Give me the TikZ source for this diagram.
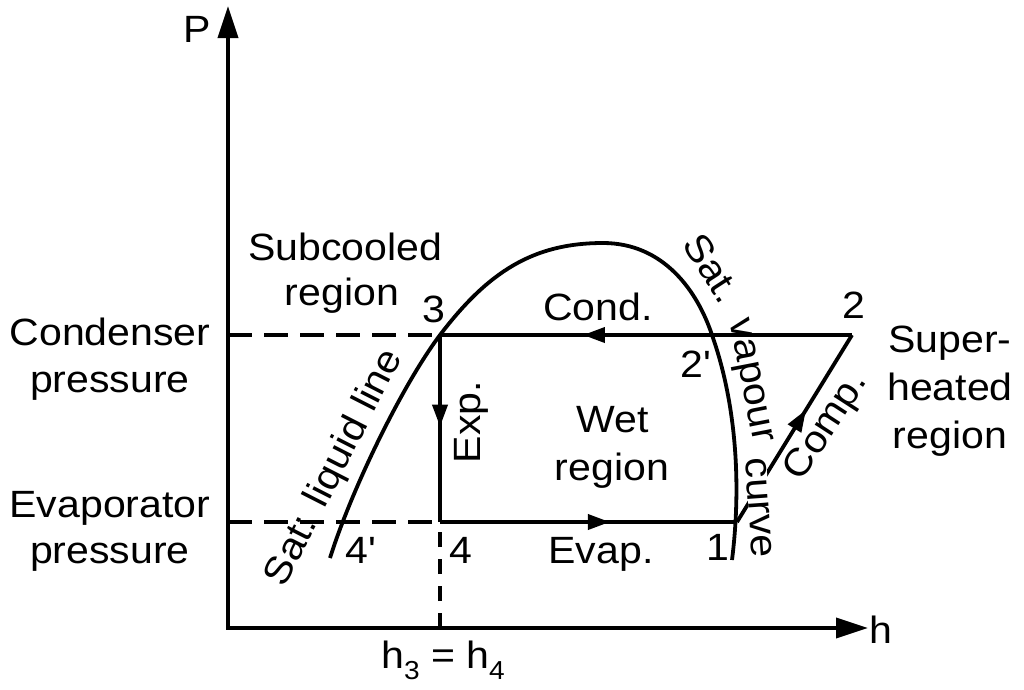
\documentclass[tikz,border=0pt]{standalone}
\usepackage{fontspec}
\setmainfont[FakeStretch=1.08]{Liberation Sans}
\usetikzlibrary{arrows.meta,decorations.markings}
\newcommand\lowsub[1]{\raisebox{-11pt}{\fontsize{26}{30}\selectfont #1}}
\begin{document}
\begin{tikzpicture}[x=1pt,y=-1pt,
  lbl/.style={font=\fontsize{38}{44}\selectfont, inner sep=0pt},
  ln/.style={line width=3.8pt},
  dsh/.style={line width=3.8pt, dash pattern=on 24pt off 12pt},
  vdsh/.style={line width=3.8pt, dash pattern=on 15pt off 12pt},
  midarrow/.style={postaction={decorate}, decoration={markings,
     mark=at position #1 with {\arrow{Triangle[length=22pt,width=15pt]}}}},
  axtip/.style={{Triangle[length=32pt,width=20pt]}-{Triangle[length=32pt,width=20pt]}}
]
\useasboundingbox (0,0) rectangle (1024,689);
% key points
\coordinate (O) at (228,628);
\coordinate (Ptop) at (228,6);
\coordinate (hend) at (868,628);
\coordinate (cL) at (228,335);
\coordinate (eL) at (228,522);
\coordinate (p3) at (440,335);
\coordinate (p2) at (852,335);
\coordinate (p4) at (440,522);
\coordinate (p1) at (737,522);
\coordinate (hb) at (440,628);
\coordinate (liqend) at (330,558);
\coordinate (top) at (603,243);
\coordinate (p2p) at (712,335);
\coordinate (vapend) at (732,560);
% axes
\draw[ln, axtip] (Ptop) -- (O) -- (hend);
% compression line (partly masked by the curve label)
\draw[ln, midarrow=0.6] (p1) -- (p2);
\node[lbl, rotate=-79, fill=white, inner sep=0pt] (tvap) at (748,381) {vapour};
\node[lbl, rotate=-86, fill=white, inner sep=0pt] (tcur) at (759,508) {curve};
\node[lbl, rotate=-57] (tsat) at (712,268) {Sat.};
% dashed pressure lines
\draw[dsh] (cL) -- (p3);
\draw[dsh] (eL) -- (p4);
\draw[vdsh] (hb) -- (p4);
% cycle
\draw[ln, midarrow=0.653] (p2) -- (p3);
\draw[ln, midarrow=0.49] (p3) -- (p4);
\draw[ln, midarrow=0.572] (p4) -- (p1);
% saturation dome
\draw[ln] (liqend) .. controls (352,488) and (403,384) .. (p3)
  .. controls (488,272) and (533,243) .. (top)
  .. controls (663,243) and (697,290) .. (p2p)
  .. controls (735,400) and (742,480) .. (vapend);
% labels
\node[lbl, anchor=base] (tP) at (197,42) {P};
\node[lbl, anchor=base] (th) at (881,643) {h};
\node[lbl, anchor=base] (th34) at (443,668) {h\lowsub{3} = h\lowsub{4}};
\node[lbl, anchor=base] (tsub1) at (345,260) {Subcooled};
\node[lbl, anchor=base] (tsub2) at (342,305) {region};
\node[lbl, anchor=base] (t3) at (434,322) {3};
\node[lbl, anchor=base] (tcond) at (598,320) {Cond.};
\node[lbl, anchor=base] (t2) at (854,318) {2};
\node[lbl, anchor=base west] (t2p) at (680,377) {2\textquotesingle};
\node[lbl, anchor=base] (tsup1) at (950,352) {Super-};
\node[lbl, anchor=base] (tsup2) at (950,400) {heated};
\node[lbl, anchor=base] (tsup3) at (950,448) {region};
\node[lbl, anchor=base] (tcp1) at (110,345) {Condenser};
\node[lbl, anchor=base] (tcp2) at (110,392) {pressure};
\node[lbl, anchor=base] (tep1) at (110,517) {Evaporator};
\node[lbl, anchor=base] (tep2) at (110,563) {pressure};
\node[lbl, anchor=base] (twet1) at (613,432) {Wet};
\node[lbl, anchor=base] (twet2) at (612,480) {region};
\node[lbl, anchor=base] (tevap) at (601,563) {Evap.};
\node[lbl, anchor=base] (t1) at (718,560) {1};
\node[lbl, anchor=base west] (t4p) at (345,563) {4\textquotesingle};
\node[lbl, anchor=base] (t4) at (461,563) {4};
\node[lbl, rotate=63] (tliq) at (335,468) {Sat: liquid line};
\node[lbl, rotate=90] (texp) at (471,422) {Exp.};
\node[lbl, rotate=57] (tcomp) at (827,427) {Comp.};
\end{tikzpicture}
\end{document}
